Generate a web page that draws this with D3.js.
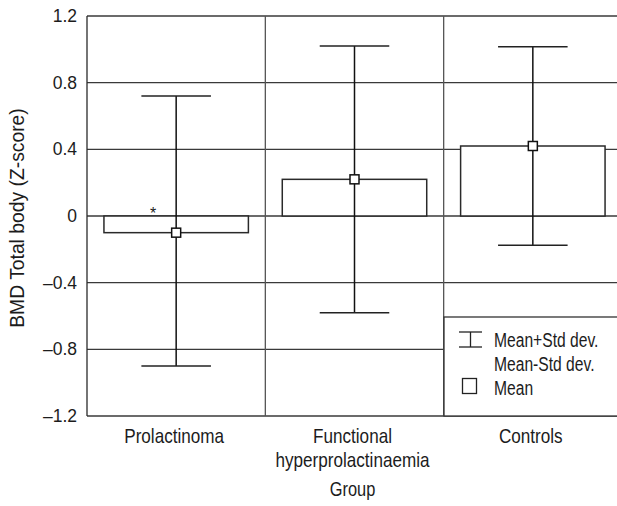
<!DOCTYPE html>
<html>
<head>
<meta charset="utf-8">
<script src="https://cdn.jsdelivr.net/npm/d3@7"></script>
<style>
  html, body { margin: 0; padding: 0; background: #fff; }
  svg { display: block; }
  text { font-family: "Liberation Sans", Arial, sans-serif; fill: #1c1c1c; }
</style>
</head>
<body>
<svg id="chart" width="617" height="506"></svg>
<script>
// ---- data ----
const categories = ["Prolactinoma", "Functional hyperprolactinaemia", "Controls"];
const labelLines = [["Prolactinoma"], ["Functional", "hyperprolactinaemia"], ["Controls"]];
const means = [-0.10, 0.22, 0.42];
const upper = [0.72, 1.02, 1.015];
const lower = [-0.90, -0.58, -0.175];
const yTicks = [-1.2, -0.8, -0.4, 0, 0.4, 0.8, 1.2];
const legendItems = ["Mean+Std dev.", "Mean-Std dev.", "Mean"];
const yTitle = "BMD Total body (Z-score)";
const xTitle = "Group";

// ---- layout ----
const svg = d3.select("#chart");
const pL = 87, pR = 622, pT = 16, pB = 416;

const x = d3.scaleBand().domain(categories).range([pL, pR]).padding(0);
const y = d3.scaleLinear().domain([-1.2, 1.2]).range([pB, pT]);
const bw = x.bandwidth();
const barW = bw * 0.81;
const capW = bw * 0.39;

const fmt = v => v === 0 ? "0" : d3.format(".1f")(v).replace("\u2212", "\u2013");

// condensed text helper (real text, horizontally compressed)
function ctext(parent, px, py, str, size, sx, anchor) {
  const g = parent.append("g").attr("transform", `translate(${px},${py}) scale(${sx},1)`);
  return g.append("text").attr("text-anchor", anchor || "start").attr("font-size", size).text(str);
}

// horizontal grid lines
svg.append("g").selectAll("line").data(yTicks).join("line")
  .attr("x1", pL).attr("x2", 617)
  .attr("y1", d => y(d)).attr("y2", d => y(d))
  .attr("stroke", "#3a3a3a").attr("stroke-width", 1.3);

// vertical panel separators
svg.append("g").selectAll("line").data(categories).join("line")
  .attr("x1", d => x(d)).attr("x2", d => x(d))
  .attr("y1", pT).attr("y2", pB)
  .attr("stroke", (d, i) => i === 0 ? "#2a2a2a" : "#555").attr("stroke-width", 1.3);

// y tick labels via axis
const yAxis = svg.append("g").attr("transform", `translate(${pL},0)`)
  .call(d3.axisLeft(y).tickValues(yTicks).tickFormat(fmt).tickSize(0).tickPadding(10));
yAxis.select(".domain").remove();
yAxis.selectAll("text").attr("font-size", 17.5).attr("fill", "#1c1c1c")
  .style("font-family", "'Liberation Sans', Arial, sans-serif");

// bars
svg.append("g").selectAll("rect").data(categories).join("rect")
  .attr("x", d => x(d) + (bw - barW) / 2)
  .attr("width", barW)
  .attr("y", (d, i) => y(Math.max(0, means[i])))
  .attr("height", (d, i) => Math.abs(y(means[i]) - y(0)))
  .attr("fill", "#fff").attr("stroke", "#2a2a2a").attr("stroke-width", 1.5);

// error bars
const eb = svg.append("g").selectAll("g").data(categories).join("g");
eb.append("line")
  .attr("x1", d => x(d) + bw / 2).attr("x2", d => x(d) + bw / 2)
  .attr("y1", (d, i) => y(upper[i])).attr("y2", (d, i) => y(lower[i]))
  .attr("stroke", "#111").attr("stroke-width", 1.5);
eb.append("line")
  .attr("x1", d => x(d) + bw / 2 - capW / 2).attr("x2", d => x(d) + bw / 2 + capW / 2)
  .attr("y1", (d, i) => y(upper[i])).attr("y2", (d, i) => y(upper[i]))
  .attr("stroke", "#222").attr("stroke-width", 1.5);
eb.append("line")
  .attr("x1", d => x(d) + bw / 2 - capW / 2).attr("x2", d => x(d) + bw / 2 + capW / 2)
  .attr("y1", (d, i) => y(lower[i])).attr("y2", (d, i) => y(lower[i]))
  .attr("stroke", "#222").attr("stroke-width", 1.5);
// mean markers
eb.append("rect")
  .attr("x", d => x(d) + bw / 2 - 4.5).attr("width", 9)
  .attr("y", (d, i) => y(means[i]) - 4.5).attr("height", 9)
  .attr("fill", "#fff").attr("stroke", "#111").attr("stroke-width", 1.5);

// significance asterisk
svg.append("text")
  .attr("x", x(categories[0]) + bw / 2 - 23)
  .attr("y", y(0) + 3)
  .attr("text-anchor", "middle").attr("font-size", 16)
  .text("*");

// x category labels
categories.forEach((c, i) => {
  labelLines[i].forEach((line, j) => {
    ctext(svg, x(c) + bw / 2 - 2, 443 + j * 24, line, 21, 0.815, "middle");
  });
});

// axis titles
ctext(svg, (pL + pR) / 2 - 2, 496, xTitle, 21, 0.78, "middle");
svg.append("g").attr("transform", `translate(24,${(pT + pB) / 2 + 2}) rotate(-90) scale(0.92,1)`)
  .append("text").attr("text-anchor", "middle").attr("font-size", 21).text(yTitle);

// legend
const lg = svg.append("g");
lg.append("rect").attr("x", 444).attr("y", 317).attr("width", 200).attr("height", pB - 317)
  .attr("fill", "#fff").attr("stroke", "#333").attr("stroke-width", 1.3);
// I-bar icon
lg.append("line").attr("x1", 470.5).attr("x2", 470.5).attr("y1", 332).attr("y2", 347).attr("stroke", "#222").attr("stroke-width", 1.3);
lg.append("line").attr("x1", 459).attr("x2", 482).attr("y1", 332).attr("y2", 332).attr("stroke", "#222").attr("stroke-width", 1.3);
lg.append("line").attr("x1", 459).attr("x2", 482).attr("y1", 347).attr("y2", 347).attr("stroke", "#222").attr("stroke-width", 1.3);
lg.append("rect").attr("x", 462.5).attr("y", 378.5).attr("width", 14).attr("height", 15)
  .attr("fill", "#fff").attr("stroke", "#222").attr("stroke-width", 1.3);
legendItems.forEach((t, i) => ctext(lg, 494, [347, 371, 395][i], t, 21, 0.745, "start"));
</script>
</body>
</html>
